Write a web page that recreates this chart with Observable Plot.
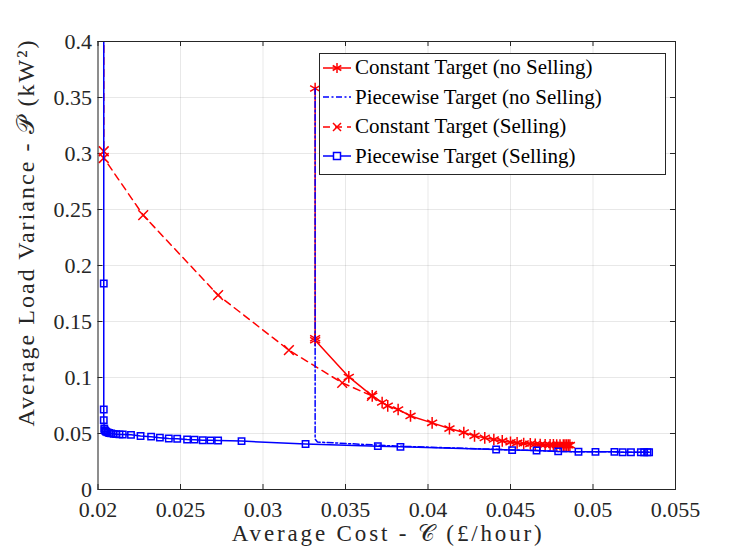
<!DOCTYPE html>
<html>
<head>
<meta charset="utf-8">
<script src="https://cdn.jsdelivr.net/npm/d3@7"></script>
<script src="https://cdn.jsdelivr.net/npm/@observablehq/plot@0.6"></script>
<style>
  html, body { margin: 0; padding: 0; background: #fff; }
  #wrap { position: relative; width: 747px; height: 551px; }
  #legend {
    position: absolute; left: 319px; top: 53px; width: 347px; height: 122px;
    background: #fff; border: 1px solid #262626; box-sizing: border-box;
    font-family: "Liberation Serif", "DejaVu Serif", serif; font-size: 21px; color: #000;
  }
  .row { position: absolute; left: 0; height: 30px; display: flex; align-items: center; white-space: nowrap; }
  .row svg { margin-left: 3px; margin-right: 4px; }
</style>
</head>
<body>
<div id="wrap"><div id="legend"></div></div>
<script>
// ---- Data ----
const xTicks = [0.02, 0.025, 0.03, 0.035, 0.04, 0.045, 0.05, 0.055];
const xTickLabels = ["0.02", "0.025", "0.03", "0.035", "0.04", "0.045", "0.05", "0.055"];
const yTicks = [0, 0.05, 0.1, 0.15, 0.2, 0.25, 0.3, 0.35, 0.4];
const yTickLabels = ["0", "0.05", "0.1", "0.15", "0.2", "0.25", "0.3", "0.35", "0.4"];

const seriesNames = [
  "Constant Target (no Selling)",
  "Piecewise Target (no Selling)",
  "Constant Target (Selling)",
  "Piecewise Target (Selling)"
];

// Constant Target (no Selling)
const cnsX = [0.03316, 0.03316, 0.03316, 0.0352, 0.03662, 0.03722, 0.03756, 0.03819, 0.03894, 0.04025, 0.0413, 0.04217, 0.04282, 0.04344, 0.04399, 0.0445, 0.0450, 0.0454, 0.0458, 0.0462, 0.0465, 0.0468, 0.0471, 0.0474, 0.0476, 0.0478, 0.0480, 0.0482, 0.0483, 0.0484, 0.0485, 0.0486];
const cnsY = [0.358, 0.135, 0.1333, 0.1005, 0.0836, 0.0777, 0.0747, 0.0714, 0.0657, 0.0595, 0.0544, 0.0509, 0.0479, 0.0461, 0.0446, 0.0434, 0.0422, 0.0416, 0.0411, 0.0407, 0.0404, 0.0402, 0.0400, 0.0399, 0.0398, 0.0397, 0.0397, 0.0396, 0.0396, 0.0396, 0.0396, 0.0396];

// Piecewise Target (no Selling)
const pnsX = [0.03316, 0.03316, 0.0333, 0.03696, 0.03833, 0.04413, 0.0451, 0.04658, 0.04789, 0.04912, 0.05015, 0.0513, 0.0518, 0.0523, 0.0529, 0.0534];
const pnsY = [0.358, 0.045, 0.0424, 0.0396, 0.0386, 0.0359, 0.0353, 0.0348, 0.0340, 0.0337, 0.0336, 0.0336, 0.0333, 0.0333, 0.0333, 0.0333];

// Constant Target (Selling)
const csX = [0.02035, 0.02035, 0.02035, 0.02274, 0.02728, 0.03157, 0.0348, 0.0366];
const csY = [0.6, 0.302, 0.296, 0.2449, 0.1735, 0.1244, 0.0952, 0.0836];

// Piecewise Target (Selling)
const psX = [0.02035, 0.02035, 0.02035, 0.02035, 0.02038, 0.0204, 0.02045, 0.0205, 0.02058, 0.02068, 0.0208, 0.02095, 0.0211, 0.0213, 0.0215, 0.0220, 0.02258, 0.02322, 0.02375, 0.02429, 0.0248, 0.0254, 0.02585, 0.02635, 0.02682, 0.02728, 0.0287, 0.03258, 0.03696, 0.03833, 0.04413, 0.0451, 0.04658, 0.04789, 0.04912, 0.05015, 0.0513, 0.0518, 0.0523, 0.0529, 0.0531, 0.0533, 0.0534];
const psY = [0.6, 0.1839, 0.0714, 0.0619, 0.0545, 0.0530, 0.0522, 0.0515, 0.0510, 0.0505, 0.0501, 0.0497, 0.0494, 0.0492, 0.0491, 0.0488, 0.0478, 0.0472, 0.0463, 0.0455, 0.0453, 0.0446, 0.0445, 0.0440, 0.0439, 0.0438, 0.0432, 0.0406, 0.0387, 0.0381, 0.0357, 0.0352, 0.0348, 0.0340, 0.0337, 0.0336, 0.0336, 0.0333, 0.0333, 0.0333, 0.0333, 0.0333, 0.0333];

const xLabel = "Average Cost - \u{1D49E} (\u00A3/hour)";
const yLabel = "Average Load Variance - \u{1D4AB} (kW\u00B2)";

// ---- Build tables ----
const zip = (xs, ys) => xs.map((x, i) => ({x, y: ys[i]}));
const cns = zip(cnsX, cnsY), pns = zip(pnsX, pnsY), cs = zip(csX, csY), ps = zip(psX, psY);

const RED = "#ff0000", BLUE = "#0000ff";
const FONT = "'Liberation Serif', 'DejaVu Serif', serif";

const xDomain = [xTicks[0], xTicks[xTicks.length - 1]];
const yDomain = [yTicks[0], yTicks[yTicks.length - 1]];
const tkx = (xDomain[1] - xDomain[0]) * 5 / 577;   // ~5px inward tick
const tky = (yDomain[1] - yDomain[0]) * 5 / 448;

const plot = Plot.plot({
  width: 747,
  height: 551,
  marginLeft: 97.5,
  marginRight: 72,
  marginTop: 41,
  marginBottom: 62,
  style: {fontFamily: FONT, fontSize: "22px", color: "#262626", background: "#fff"},
  x: {domain: xDomain},
  y: {domain: yDomain},
  marks: [
    Plot.gridX(xTicks, {stroke: "#000", strokeOpacity: 0.09, strokeWidth: 1}),
    Plot.gridY(yTicks, {stroke: "#000", strokeOpacity: 0.09, strokeWidth: 1}),
    Plot.axisX({ticks: xTicks, tickFormat: d => xTickLabels[xTicks.indexOf(d)], tickSize: 0, tickPadding: 12, label: null, fill: "#262626"}),
    Plot.axisY({ticks: yTicks, tickFormat: d => yTickLabels[yTicks.indexOf(d)], tickSize: 0, tickPadding: 6, label: null, fill: "#262626"}),
    // inward ticks on all four sides
    Plot.ruleX(xTicks, {y1: yDomain[0], y2: yDomain[0] + tky, stroke: "#262626"}),
    Plot.ruleX(xTicks, {y1: yDomain[1], y2: yDomain[1] - tky, stroke: "#262626"}),
    Plot.ruleY(yTicks, {x1: xDomain[0], x2: xDomain[0] + tkx, stroke: "#262626"}),
    Plot.ruleY(yTicks, {x1: xDomain[1], x2: xDomain[1] - tkx, stroke: "#262626"}),
    // series
    Plot.line(cs, {x: "x", y: "y", stroke: RED, strokeWidth: 1.5, strokeDasharray: "7,5", clip: true}),
    Plot.dot(cs, {x: "x", y: "y", symbol: "times", r: 4.5, stroke: RED, strokeWidth: 1.5, clip: true}),
    Plot.line(cns, {x: "x", y: "y", stroke: RED, strokeWidth: 1.5, clip: true}),
    Plot.dot(cns, {x: "x", y: "y", symbol: "asterisk", r: 5.5, stroke: RED, strokeWidth: 1.5, clip: true}),
    Plot.line(pns, {x: "x", y: "y", stroke: BLUE, strokeWidth: 1.5, strokeDasharray: "6,2.5,2,2.5", clip: true}),
    Plot.line(ps, {x: "x", y: "y", stroke: BLUE, strokeWidth: 1.5, clip: true}),
    Plot.dot(ps, {x: "x", y: "y", symbol: "square", r: 3.6, stroke: BLUE, strokeWidth: 1.5, fill: "none", clip: true}),
    Plot.frame({stroke: "#262626", strokeWidth: 1}),
    // axis titles
    Plot.text([xLabel], {frameAnchor: "bottom", textAnchor: "middle", lineAnchor: "bottom", dy: 51, fontSize: 23, fill: "#262626"}),
    Plot.text([yLabel], {frameAnchor: "left", textAnchor: "middle", lineAnchor: "middle", dx: -72, dy: -32, rotate: -90, fontSize: 24, fill: "#262626"})
  ]
});
document.getElementById("wrap").prepend(plot);

// stretch the axis titles to the reference extents
d3.select(plot).selectAll("text").each(function () {
  const t = this.textContent;
  if (t === xLabel) d3.select(this).attr("textLength", 310).attr("lengthAdjust", "spacing");
  if (t === yLabel) d3.select(this).attr("textLength", 386).attr("lengthAdjust", "spacing");
});

// ---- Legend ----
const legendSpecs = [
  {stroke: RED, dash: null, symbol: "asterisk"},
  {stroke: BLUE, dash: "6,2.5,2,2.5", symbol: null},
  {stroke: RED, dash: "7,5", symbol: "times"},
  {stroke: BLUE, dash: null, symbol: "square"}
];
const legend = document.getElementById("legend");
seriesNames.forEach((name, i) => {
  const s = legendSpecs[i];
  const row = document.createElement("div");
  row.className = "row";
  row.style.top = (i * 29.5 - 1.5) + "px";
  let marker = "";
  if (s.symbol === "asterisk") {
    const r = 5;
    marker = [0, 60, 120].map(a => {
      const rad = a * Math.PI / 180;
      return `<line x1="${14 - r * Math.sin(rad)}" y1="${10 - r * Math.cos(rad)}" x2="${14 + r * Math.sin(rad)}" y2="${10 + r * Math.cos(rad)}" stroke="${s.stroke}" stroke-width="1.5"/>`;
    }).join("");
  } else if (s.symbol === "times") {
    marker = `<path d="M10,6L18,14M18,6L10,14" stroke="${s.stroke}" stroke-width="1.5"/>`;
  } else if (s.symbol === "square") {
    marker = `<rect x="10.5" y="6.5" width="7" height="7" fill="#fff" stroke="${s.stroke}" stroke-width="1.5"/>`;
  }
  row.innerHTML = `<svg width="28" height="20"><line x1="0" y1="10" x2="28" y2="10" stroke="${s.stroke}" stroke-width="1.5" ${s.dash ? `stroke-dasharray="${s.dash}"` : ""}/>${marker}</svg><span>${name}</span>`;
  legend.appendChild(row);
});
</script>
</body>
</html>
